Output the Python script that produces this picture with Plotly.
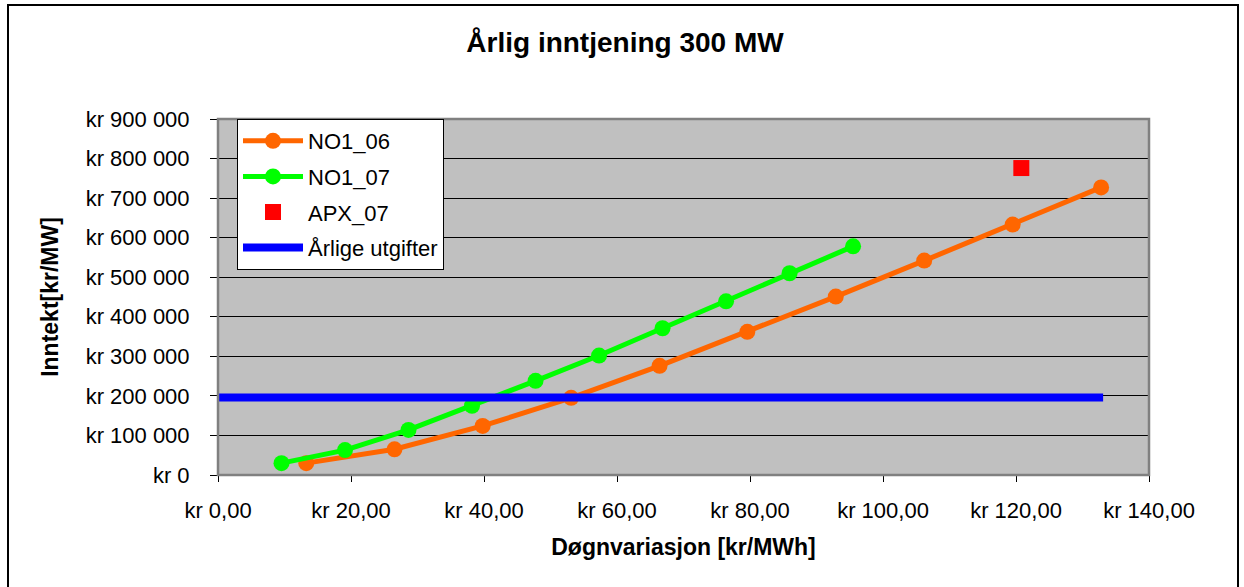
import plotly.graph_objects as go

# Data
no1_06_x = [13.27, 26.54, 39.8, 53.1, 66.4, 79.6, 92.9, 106.2, 119.5, 132.8]
no1_06_y = [30000, 65000, 124000, 195000, 276000, 362000, 451000, 542000, 633000, 727000]
no1_07_x = [9.55, 19.1, 28.65, 38.2, 47.75, 57.3, 66.85, 76.4, 85.95, 95.5]
no1_07_y = [30000, 63000, 114000, 175000, 238000, 302000, 371000, 439000, 510000, 578000]
apx_07_x = [120.8]
apx_07_y = [776000]
utg_x = [0, 133.1]
utg_y = [196000, 196000]

x_ticks = [0, 20, 40, 60, 80, 100, 120, 140]
x_ticktext = ["kr 0,00", "kr 20,00", "kr 40,00", "kr 60,00", "kr 80,00", "kr 100,00", "kr 120,00", "kr 140,00"]
y_ticks = [0, 100000, 200000, 300000, 400000, 500000, 600000, 700000, 800000, 900000]
y_ticktext = ["kr 0", "kr 100 000", "kr 200 000", "kr 300 000", "kr 400 000", "kr 500 000",
              "kr 600 000", "kr 700 000", "kr 800 000", "kr 900 000"]

FONT = "Liberation Sans, Arial, sans-serif"

fig = go.Figure()
fig.add_trace(go.Scatter(x=no1_06_x, y=no1_06_y, mode="lines+markers", name="NO1_06",
                         legendgroup="a",
                         line=dict(color="#FF6600", width=5),
                         marker=dict(color="#FF6600", size=16, symbol="circle")))
fig.add_trace(go.Scatter(x=no1_07_x, y=no1_07_y, mode="lines+markers", name="NO1_07",
                         legendgroup="b",
                         line=dict(color="#00FF00", width=5),
                         marker=dict(color="#00FF00", size=16, symbol="circle")))
fig.add_trace(go.Scatter(x=apx_07_x, y=apx_07_y, mode="markers", name="APX_07",
                         legendgroup="c",
                         marker=dict(color="#FF0000", size=16, symbol="square")))
fig.add_trace(go.Scatter(x=utg_x, y=utg_y, mode="lines", name="Årlige utgifter",
                         legendgroup="d",
                         line=dict(color="#0000FF", width=8)))

L, R, T, B = 218, 95, 119, 112
W, H = 1244, 587
pw = W - L - R
ph = H - T - B

def px_to_paper_x(px):
    return (px - L) / pw

def px_to_paper_y(py):
    return (H - B - py) / ph

shapes = [
    dict(type="rect", xref="paper", yref="paper", x0=0, y0=0, x1=1, y1=1,
         line=dict(color="#808080", width=2.5), layer="above"),
    dict(type="rect", xref="paper", yref="paper",
         x0=px_to_paper_x(8), x1=px_to_paper_x(1238),
         y0=px_to_paper_y(592), y1=px_to_paper_y(5),
         line=dict(color="black", width=2)),
]

fig.update_layout(
    width=W, height=H,
    margin=dict(l=L, r=R, t=T, b=B),
    paper_bgcolor="white",
    plot_bgcolor="#C0C0C0",
    font=dict(family=FONT, size=22, color="black"),
    title=dict(text="<b>Årlig inntjening 300 MW</b>", x=625 / W, xref="container", xanchor="center",
               y=1 - 42 / H, yanchor="middle",
               font=dict(family=FONT, size=28, color="black")),
    showlegend=True,
    legend=dict(x=px_to_paper_x(237), y=1.0, xanchor="left", yanchor="top",
                bgcolor="white", bordercolor="black", borderwidth=1,
                font=dict(family=FONT, size=22, color="black"),
                tracegroupgap=4, traceorder="grouped", itemwidth=60),
    shapes=shapes,
)
fig.update_xaxes(range=[0, 140], tickvals=x_ticks, ticktext=x_ticktext,
                 ticks="outside", ticklen=6, tickcolor="black", tickwidth=1,
                 ticklabelstandoff=10,
                 showgrid=False, zeroline=False, showline=False,
                 title=dict(text="<b>Døgnvariasjon [kr/MWh]</b>", standoff=16,
                            font=dict(family=FONT, size=23)))
fig.update_yaxes(range=[0, 900000], tickvals=y_ticks, ticktext=y_ticktext,
                 ticks="outside", ticklen=7, tickcolor="black", tickwidth=1,
                 ticklabelstandoff=16,
                 showgrid=True, gridcolor="black", gridwidth=1,
                 zeroline=False, showline=False,
                 title=dict(text="<b>Inntekt[kr/MW]</b>", standoff=20,
                            font=dict(family=FONT, size=23)))

fig.write_html("out.html")
